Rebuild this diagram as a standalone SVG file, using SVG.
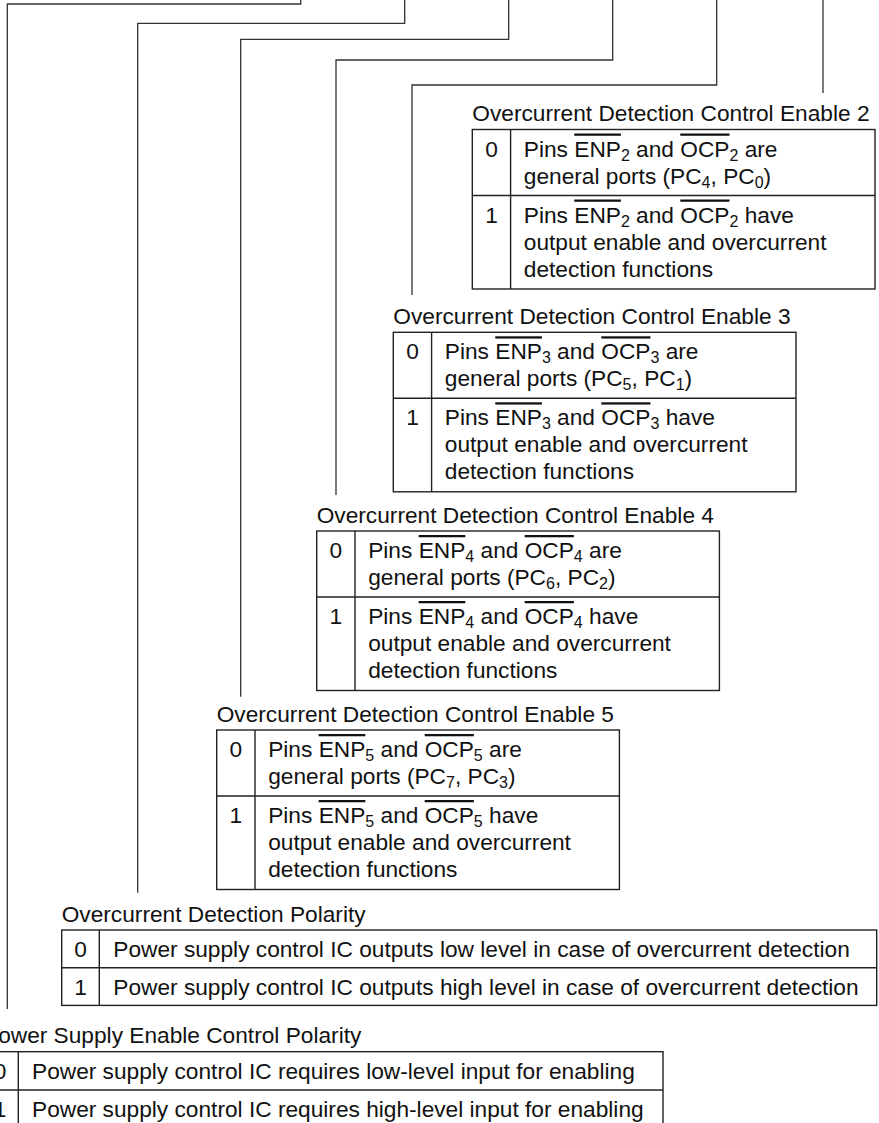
<svg xmlns="http://www.w3.org/2000/svg" width="879" height="1123" viewBox="0 0 879 1123">
<style>
.t { font-family: "Liberation Sans", Arial, Helvetica, sans-serif; font-size: 22.7px; fill: #111; }
.n { text-anchor: middle; }
.ov { text-decoration: overline; }
.sub { font-size: 16px; }
.box { fill: none; stroke: #222; stroke-width: 1.4; }
.conn { fill: none; stroke: #333; stroke-width: 1.3; }
</style>
<rect width="879" height="1123" fill="#fff"/>
<g id="connectors" class="conn">
<path d="M300.7,0 V4 H7.3 V1009"/>
<path d="M404.7,0 V23.3 H137.7 V892.7"/>
<path d="M508.7,0 V39.3 H240.7 V696.7"/>
<path d="M612.7,0 V60 H336 V495"/>
<path d="M716.7,0 V85 H412 V295"/>
<path d="M823,0 V93"/>
</g>
<g id="ocp-enable-2" transform="translate(472.3,129.5)">
<text class="t" x="0" y="-8.3">Overcurrent Detection Control Enable 2</text>
<rect class="box" x="0" y="0" width="402.7" height="159.5"/>
<path class="box" d="M38.3,0 V159.5 M0,66 H402.7"/>
<text class="t n" x="19.2" y="27">0</text>
<text class="t" x="51.5" y="27">Pins <tspan class="ov">ENP</tspan><tspan class="sub" dy="4">2</tspan><tspan dy="-4"> and </tspan><tspan class="ov">OCP</tspan><tspan class="sub" dy="4">2</tspan><tspan dy="-4"> are</tspan></text>
<text class="t" x="51.5" y="54">general ports (PC<tspan class="sub" dy="4">4</tspan><tspan dy="-4">, PC</tspan><tspan class="sub" dy="4">0</tspan><tspan dy="-4">)</tspan></text>
<text class="t n" x="19.2" y="93">1</text>
<text class="t" x="51.5" y="93">Pins <tspan class="ov">ENP</tspan><tspan class="sub" dy="4">2</tspan><tspan dy="-4"> and </tspan><tspan class="ov">OCP</tspan><tspan class="sub" dy="4">2</tspan><tspan dy="-4"> have</tspan></text>
<text class="t" x="51.5" y="120">output enable and overcurrent</text>
<text class="t" x="51.5" y="147">detection functions</text>
</g>
<g id="ocp-enable-3" transform="translate(393.3,332.3)">
<text class="t" x="0" y="-8.3">Overcurrent Detection Control Enable 3</text>
<rect class="box" x="0" y="0" width="402.7" height="159.5"/>
<path class="box" d="M38.3,0 V159.5 M0,66 H402.7"/>
<text class="t n" x="19.2" y="27">0</text>
<text class="t" x="51.5" y="27">Pins <tspan class="ov">ENP</tspan><tspan class="sub" dy="4">3</tspan><tspan dy="-4"> and </tspan><tspan class="ov">OCP</tspan><tspan class="sub" dy="4">3</tspan><tspan dy="-4"> are</tspan></text>
<text class="t" x="51.5" y="54">general ports (PC<tspan class="sub" dy="4">5</tspan><tspan dy="-4">, PC</tspan><tspan class="sub" dy="4">1</tspan><tspan dy="-4">)</tspan></text>
<text class="t n" x="19.2" y="93">1</text>
<text class="t" x="51.5" y="93">Pins <tspan class="ov">ENP</tspan><tspan class="sub" dy="4">3</tspan><tspan dy="-4"> and </tspan><tspan class="ov">OCP</tspan><tspan class="sub" dy="4">3</tspan><tspan dy="-4"> have</tspan></text>
<text class="t" x="51.5" y="120">output enable and overcurrent</text>
<text class="t" x="51.5" y="147">detection functions</text>
</g>
<g id="ocp-enable-4" transform="translate(316.7,531)">
<text class="t" x="0" y="-8.3">Overcurrent Detection Control Enable 4</text>
<rect class="box" x="0" y="0" width="402.7" height="159.5"/>
<path class="box" d="M38.3,0 V159.5 M0,66 H402.7"/>
<text class="t n" x="19.2" y="27">0</text>
<text class="t" x="51.5" y="27">Pins <tspan class="ov">ENP</tspan><tspan class="sub" dy="4">4</tspan><tspan dy="-4"> and </tspan><tspan class="ov">OCP</tspan><tspan class="sub" dy="4">4</tspan><tspan dy="-4"> are</tspan></text>
<text class="t" x="51.5" y="54">general ports (PC<tspan class="sub" dy="4">6</tspan><tspan dy="-4">, PC</tspan><tspan class="sub" dy="4">2</tspan><tspan dy="-4">)</tspan></text>
<text class="t n" x="19.2" y="93">1</text>
<text class="t" x="51.5" y="93">Pins <tspan class="ov">ENP</tspan><tspan class="sub" dy="4">4</tspan><tspan dy="-4"> and </tspan><tspan class="ov">OCP</tspan><tspan class="sub" dy="4">4</tspan><tspan dy="-4"> have</tspan></text>
<text class="t" x="51.5" y="120">output enable and overcurrent</text>
<text class="t" x="51.5" y="147">detection functions</text>
</g>
<g id="ocp-enable-5" transform="translate(216.7,730)">
<text class="t" x="0" y="-8.3">Overcurrent Detection Control Enable 5</text>
<rect class="box" x="0" y="0" width="402.7" height="159.5"/>
<path class="box" d="M38.3,0 V159.5 M0,66 H402.7"/>
<text class="t n" x="19.2" y="27">0</text>
<text class="t" x="51.5" y="27">Pins <tspan class="ov">ENP</tspan><tspan class="sub" dy="4">5</tspan><tspan dy="-4"> and </tspan><tspan class="ov">OCP</tspan><tspan class="sub" dy="4">5</tspan><tspan dy="-4"> are</tspan></text>
<text class="t" x="51.5" y="54">general ports (PC<tspan class="sub" dy="4">7</tspan><tspan dy="-4">, PC</tspan><tspan class="sub" dy="4">3</tspan><tspan dy="-4">)</tspan></text>
<text class="t n" x="19.2" y="93">1</text>
<text class="t" x="51.5" y="93">Pins <tspan class="ov">ENP</tspan><tspan class="sub" dy="4">5</tspan><tspan dy="-4"> and </tspan><tspan class="ov">OCP</tspan><tspan class="sub" dy="4">5</tspan><tspan dy="-4"> have</tspan></text>
<text class="t" x="51.5" y="120">output enable and overcurrent</text>
<text class="t" x="51.5" y="147">detection functions</text>
</g>
<g id="ocp-polarity" transform="translate(61.7,930)">
<text class="t" x="0" y="-8.3">Overcurrent Detection Polarity</text>
<rect class="box" x="0" y="0" width="815" height="75.4"/>
<path class="box" d="M37.6,0 V75.4 M0,37.7 H815"/>
<text class="t n" x="18.8" y="27">0</text>
<text class="t" x="51.6" y="27">Power supply control IC outputs low level in case of overcurrent detection</text>
<text class="t n" x="18.8" y="64.7">1</text>
<text class="t" x="51.6" y="64.7">Power supply control IC outputs high level in case of overcurrent detection</text>
</g>
<g id="power-enable-polarity" transform="translate(-18,1051.7)">
<text class="t" x="1" y="-8.3">Power Supply Enable Control Polarity</text>
<rect class="box" x="0" y="0" width="681" height="77"/>
<path class="box" d="M36.3,0 V77 M0,38.3 H681"/>
<text class="t n" x="18" y="27.3">0</text>
<text class="t" x="50" y="27.3">Power supply control IC requires low-level input for enabling</text>
<text class="t n" x="18" y="65.6">1</text>
<text class="t" x="50" y="65.6">Power supply control IC requires high-level input for enabling</text>
</g>
</svg>
